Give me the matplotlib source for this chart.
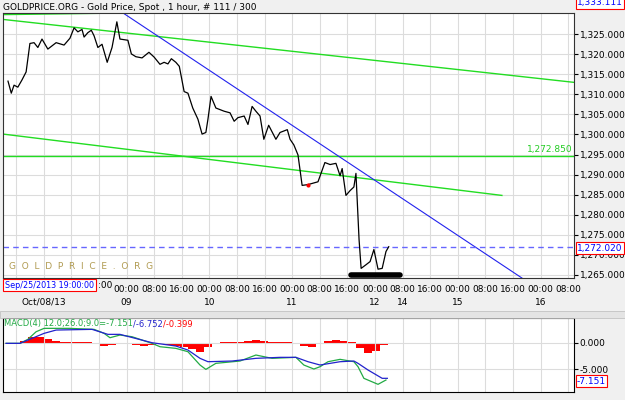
import matplotlib.pyplot as plt
from matplotlib.patches import Rectangle

# hours since left edge of chart, spot price
price_hours = [1.45, 2.4, 3.2, 4.3, 5.5, 6.7, 7.8, 9.0, 10.1, 11.3, 13.0, 15.4, 17.7, 19.4,
               20.6, 21.7, 22.9, 23.5, 24.6, 25.6, 26.4, 27.5, 28.7, 30.2, 31.6, 33.0,
               33.9, 36.2, 37.2, 38.5, 40.3, 42.3, 43.8, 45.5, 46.7, 47.8, 48.8, 50.1,
               51.1, 52.5, 53.6, 55.0, 56.5, 57.7, 58.8, 59.4, 60.3, 61.7, 64.1, 65.8,
               67.0, 68.1, 69.9, 71.0, 72.2, 73.3, 74.5, 75.6, 77.0, 79.1, 80.3, 82.4,
               83.2, 84.3, 85.5, 86.7, 88.4, 91.3, 93.3, 94.8, 96.5, 97.7, 98.3, 99.4,
               100.6, 101.7, 102.3, 103.2, 103.8, 105.2, 106.4, 107.5, 108.7, 109.9,
               111.0, 111.8]
price = [1313.3, 1310.3, 1312.3, 1311.8, 1313.6, 1315.6, 1322.7, 1322.9, 1321.7, 1323.8,
         1321.3, 1322.9, 1322.3, 1324.0, 1326.6, 1325.6, 1326.2, 1324.3, 1325.4, 1326.0,
         1324.6, 1321.7, 1322.5, 1318.0, 1321.7, 1328.1, 1323.8, 1323.5, 1320.1, 1319.4,
         1319.1, 1320.5, 1319.3, 1317.5, 1318.0, 1317.6, 1318.9, 1318.0, 1317.0, 1310.7,
         1310.3, 1306.6, 1303.8, 1300.1, 1300.5, 1303.8, 1309.5, 1306.6, 1305.8, 1305.4,
         1303.3, 1304.2, 1304.6, 1302.5, 1307.0, 1305.8, 1304.6, 1298.8, 1302.3, 1298.8,
         1300.5, 1301.2, 1298.8, 1297.4, 1294.9, 1287.3, 1287.5, 1288.2, 1293.0, 1292.5,
         1292.8, 1289.7, 1291.5, 1284.8, 1286.0, 1286.9, 1290.3, 1273.8, 1266.6, 1267.5,
         1268.3, 1271.3, 1266.4, 1266.6, 1270.8, 1272.0]

blue_trend = ([34.8, 150.4], [1330.3, 1264.2])
green_top_short = ([0, 34.8], [1329.9, 1330.3])
green_upper = ([0, 165.5], [1328.7, 1313.0])
green_lower = ([0, 144.6], [1300.1, 1284.8])
green_level = 1294.75
last_price = 1272.02
support_bar = ([101.0, 115.1], [1265.0, 1265.0])

macd_hours = [0.9, 4.9, 7.2, 9.6, 11.9, 19.4, 26.4, 29.3, 31.0, 33.9, 37.4, 43.2, 45.5, 50.1,
              53.6, 57.1, 58.8, 61.7, 68.7, 73.3, 78.0, 84.9, 87.2, 90.1, 91.9, 94.2, 97.7,
              101.7, 102.9, 104.6, 108.7, 111.0]
macd = [-0.12, -0.12, 0.64, 2.09, 2.73, 2.73, 2.54, 1.78, 0.95, 1.46, 1.14, -0.12, -0.76,
        -1.07, -1.71, -4.24, -5.07, -3.92, -3.48, -2.34, -2.97, -2.78, -4.24, -5.0, -4.56,
        -3.61, -3.16, -3.61, -4.56, -6.77, -7.91, -7.09]
signal_hours = [0.9, 4.9, 8.4, 11.9, 15.4, 25.8, 30.4, 33.9, 43.2, 50.1, 53.6, 57.1, 59.4,
                66.4, 73.3, 80.3, 84.9, 88.4, 91.9, 97.7, 101.7, 102.9, 105.8, 109.9, 111.4]
signal = [-0.12, -0.12, 0.83, 1.78, 2.41, 2.54, 1.59, 1.59, 0.0, -0.63, -1.39, -2.97, -3.61,
          -3.48, -2.97, -2.78, -2.78, -3.61, -4.24, -3.61, -3.48, -3.92, -5.19, -6.77, -6.77]
hist_hours = [1.4, 3.8, 6.1, 8.4, 10.7, 13.0, 15.4, 17.7, 20.0, 22.3, 24.6, 27.0, 29.3, 31.6,
              33.9, 36.2, 38.5, 40.9, 43.2, 45.5, 47.8, 50.1, 52.5, 54.8, 57.1, 59.4, 61.7,
              64.1, 66.4, 68.7, 71.0, 73.3, 75.6, 78.0, 80.3, 82.6, 84.9, 87.2, 89.6, 91.9,
              94.2, 96.5, 98.8, 101.2, 103.5, 105.8, 108.1, 110.4]
hist = [-0.2, -0.1, 0.4, 1.0, 1.1, 0.8, 0.4, 0.2, 0.15, 0.2, 0.1, -0.2, -0.7, -0.4, -0.2,
        -0.3, -0.5, -0.6, -0.4, -0.3, -0.4, -0.6, -0.9, -1.2, -1.7, -0.9, -0.3, 0.05, 0.1,
        0.2, 0.4, 0.5, 0.3, 0.15, 0.2, 0.1, -0.1, -0.6, -0.8, -0.2, 0.3, 0.6, 0.3, 0.1,
        -1.0, -1.9, -1.5, -0.5]

grid_hours = [3.8 + 8 * k for k in range(21)]
time_labels = [":00", "00:00", "08:00", "16:00", "00:00", "08:00", "16:00", "00:00",
               "08:00", "16:00", "00:00", "08:00", "16:00", "00:00", "08:00", "16:00",
               "00:00", "08:00"]
day_labels = ["Oct/08/13", "09", "10", "11", "12", "14", "15", "16"]
day_grid = [1.0, 4, 7, 10, 13, 14, 16, 19]   # gridline index of each day label

W, H = 625, 400
XL = (0, 165.5)
FS = 6.5
fig = plt.figure(figsize=(6.25, 4), dpi=100, facecolor="#f0f0f0")
ax = fig.add_axes([3 / W, 1 - 278 / H, 571 / W, 265 / H])
ax.set_facecolor("white")
ax.set_xlim(*XL)
ax.set_ylim(1264.2, 1330.3)
ax.set_xticks(grid_hours)
ax.set_xticklabels([])
ax.set_yticks(range(1265, 1330, 5))
ax.yaxis.tick_right()
ax.set_yticklabels([f"{v:,}.000" for v in range(1265, 1330, 5)], fontsize=FS)
ax.tick_params(axis="y", length=3, pad=1)
ax.tick_params(axis="x", length=0)
ax.grid(color="#dcdcdc", lw=0.8)
for s in ax.spines.values():
    s.set_color("#333333")

ax.text(0.01, 0.035, "G  O  L  D  P  R  I  C  E  .  O  R  G", transform=ax.transAxes,
        color="#b09a50", fontsize=FS)
ax.plot(*green_top_short, color="#22dd22", lw=1)
ax.plot(*green_upper, color="#22dd22", lw=1)
ax.plot(*green_lower, color="#22dd22", lw=1)
ax.axhline(green_level, color="#22dd22", lw=1)
ax.text(165, green_level + 0.3, "1,272.850", color="#22cc22", fontsize=FS, ha="right",
        va="bottom")
ax.plot(*blue_trend, color="#2222ee", lw=0.8)
ax.axhline(last_price, color="#6666ff", lw=1, ls=(0, (4, 3)))
ax.plot(price_hours, price, color="black", lw=0.9)
ax.plot([88.4], [1287.5], "o", color="red", ms=2)
ax.plot(*support_bar, color="black", lw=4, solid_capstyle="round")

fig.text(3 / W, 1 - 7 / H, "GOLDPRICE.ORG - Gold Price, Spot , 1 hour, # 111 / 300",
         fontsize=FS, va="center")
box = dict(boxstyle="square,pad=0.15", fc="white", ec="red", lw=0.8)
fig.text(577 / W, 1 - 3 / H, "1,333.111", fontsize=FS, color="blue", va="center", bbox=box)
fig.text(577 / W, 1 - 248 / H, "1,272.020", fontsize=FS, color="blue", va="center", bbox=box)

xt = ax.get_xaxis_transform()
for i, lab in enumerate(time_labels):
    if i == 0:
        fig.text(98 / W, 1 - 285 / H, lab, fontsize=FS, ha="left", va="center")
        continue
    ax.text(grid_hours[i + 3], -0.025, lab, transform=xt, fontsize=FS, ha="center", va="top")
for gi, lab in zip(day_grid, day_labels):
    x = grid_hours[0] + 8 * gi
    ax.text(x, -0.075, lab, transform=xt, fontsize=FS, ha="center", va="top")
fig.text(5 / W, 1 - 285 / H, "Sep/25/2013 19:00:00", fontsize=5.8, color="blue",
         va="center", bbox=dict(boxstyle="square,pad=0.2", fc="white", ec="red", lw=0.8))

fig.add_artist(Rectangle((0, 1 - 318 / H), 1, 7 / H, transform=fig.transFigure,
                         fc="#e4e4e4", ec="#bbbbbb", lw=0.5))

mx = fig.add_axes([3 / W, 1 - 392 / H, 571 / W, 74 / H])
mx.set_facecolor("white")
mx.set_xlim(*XL)
mx.set_ylim(-9.37, 4.7)
mx.set_xticks(grid_hours)
mx.set_xticklabels([])
mx.tick_params(axis="x", length=0)
mx.set_yticks([0, -5])
mx.yaxis.tick_right()
mx.set_yticklabels(["0.000", "-5.000"], fontsize=FS)
mx.tick_params(axis="y", length=3, pad=1)
mx.grid(color="#dcdcdc", lw=0.8)
mx.bar(hist_hours, hist, width=2.4, color="red")
mx.plot(macd_hours, macd, color="#22aa44", lw=0.9)
mx.plot(signal_hours, signal, color="#2222cc", lw=0.9)

t1 = mx.text(0.002, 0.98, "MACD(4) 12.0;26.0;9.0=-7.151", transform=mx.transAxes,
             color="#22aa44", fontsize=6, va="top")
t2 = mx.annotate("/-6.752", xycoords=t1, xy=(1, 1), va="top", color="#2222cc", fontsize=6)
mx.annotate("/-0.399", xycoords=t2, xy=(1, 1), va="top", color="red", fontsize=6)
fig.text(577 / W, 1 - 381 / H, "-7.151", fontsize=FS, color="blue", va="center", bbox=box)

fig.savefig("out.png", dpi=100, facecolor=fig.get_facecolor())
